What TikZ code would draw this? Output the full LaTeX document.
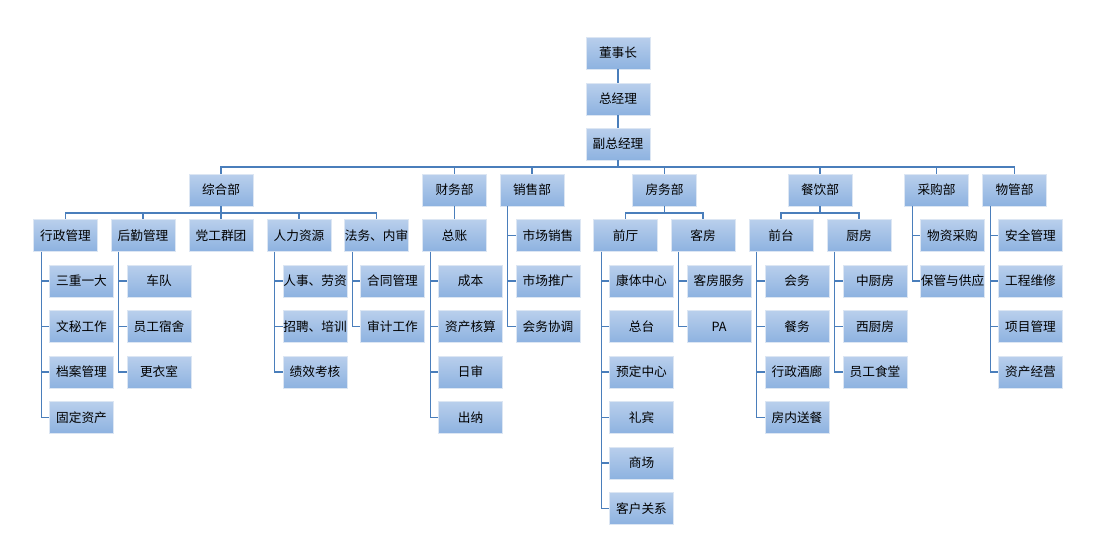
\documentclass[tikz,border=0pt]{standalone}
\usepackage{fontspec}
\setmainfont{Noto Sans CJK SC}
\usepackage{tikz}
\usepackage{xcolor}
\definecolor{boxtop}{HTML}{B9CFEC}
\definecolor{boxbot}{HTML}{8DB2E0}
\definecolor{boxline}{HTML}{DCE6F3}
\definecolor{conn}{HTML}{4A7EBB}

\begin{document}
\begin{tikzpicture}[x=0.75pt, y=-0.75pt,
  box/.style={draw=boxline, line width=0.6pt, top color=boxtop, bottom color=boxbot,
    minimum width=48pt, minimum height=24pt, inner sep=0pt, font=\fontsize{9.5}{11}\selectfont},
  link/.style={draw=conn, line width=0.9pt}]
\useasboundingbox (0,0) rectangle (1110,558);
% top
\node[box] (dsz) at (618,53) {董事长};
\node[box] (zjl) at (618,99) {总经理};
\node[box] (fzjl) at (618,144) {副总经理};
\draw[link] (dsz) -- (zjl);
\draw[link] (zjl) -- (fzjl);
% departments
\node[box] (zhb) at (221,190) {综合部};
\node[box] (cwb) at (454.5,190) {财务部};
\node[box] (xsb) at (532,190) {销售部};
\node[box] (fwb) at (664.5,190) {房务部};
\node[box] (cyb) at (820,190) {餐饮部};
\node[box] (cgb) at (936.5,190) {采购部};
\node[box] (wgb) at (1014.5,190) {物管部};
\coordinate (bus1) at (618,167);
\draw[link] (fzjl) -- (bus1);
\draw[link] (bus1) -| (zhb.north);
\draw[link] (bus1) -| (cwb.north);
\draw[link] (bus1) -| (xsb.north);
\draw[link] (bus1) -| (fwb.north);
\draw[link] (bus1) -| (cyb.north);
\draw[link] (bus1) -| (cgb.north);
\draw[link] (bus1) -| (wgb.north);
% 综合部
\node[box] (xzgl) at (65.5,235.5) {行政管理};
\node[box] (hqgl) at (143,235.5) {后勤管理};
\node[box] (dgqt) at (221,235.5) {党工群团};
\node[box] (rlzy) at (299,235.5) {人力资源};
\node[box] (fwns) at (376.5,235.5) {法务、内审};
\coordinate (bus2) at (221,213);
\draw[link] (zhb) -- (bus2);
\draw[link] (bus2) -| (xzgl.north);
\draw[link] (bus2) -| (hqgl.north);
\draw[link] (bus2) -| (dgqt.north);
\draw[link] (bus2) -| (rlzy.north);
\draw[link] (bus2) -| (fwns.north);
\node[box] (xz1) at (81.5,281) {三重一大};
\node[box] (xz2) at (81.5,326.5) {文秘工作};
\node[box] (xz3) at (81.5,372) {档案管理};
\node[box] (xz4) at (81.5,417.5) {固定资产};
\draw[link] (xzgl.south west) ++(8,0) |- (xz1.west);
\draw[link] (xzgl.south west) ++(8,0) |- (xz2.west);
\draw[link] (xzgl.south west) ++(8,0) |- (xz3.west);
\draw[link] (xzgl.south west) ++(8,0) |- (xz4.west);
\node[box] (hq1) at (159,281) {车队};
\node[box] (hq2) at (159,326.5) {员工宿舍};
\node[box] (hq3) at (159,372) {更衣室};
\draw[link] (hqgl.south west) ++(8,0) |- (hq1.west);
\draw[link] (hqgl.south west) ++(8,0) |- (hq2.west);
\draw[link] (hqgl.south west) ++(8,0) |- (hq3.west);
\node[box] (rl1) at (315,281) {人事、劳资};
\node[box] (rl2) at (315,326.5) {招聘、培训};
\node[box] (rl3) at (315,372) {绩效考核};
\draw[link] (rlzy.south west) ++(8,0) |- (rl1.west);
\draw[link] (rlzy.south west) ++(8,0) |- (rl2.west);
\draw[link] (rlzy.south west) ++(8,0) |- (rl3.west);
\node[box] (fw1) at (392.5,281) {合同管理};
\node[box] (fw2) at (392.5,326.5) {审计工作};
\draw[link] (fwns.south west) ++(8,0) |- (fw1.west);
\draw[link] (fwns.south west) ++(8,0) |- (fw2.west);
% 财务部
\node[box] (zz) at (454.5,235.5) {总账};
\draw[link] (cwb) -- (zz);
\node[box] (zz1) at (470.5,281) {成本};
\node[box] (zz2) at (470.5,326.5) {资产核算};
\node[box] (zz3) at (470.5,372) {日审};
\node[box] (zz4) at (470.5,417.5) {出纳};
\draw[link] (zz.south west) ++(8,0) |- (zz1.west);
\draw[link] (zz.south west) ++(8,0) |- (zz2.west);
\draw[link] (zz.south west) ++(8,0) |- (zz3.west);
\draw[link] (zz.south west) ++(8,0) |- (zz4.west);
% 销售部
\node[box] (xs1) at (548,235.5) {市场销售};
\node[box] (xs2) at (548,281) {市场推广};
\node[box] (xs3) at (548,326.5) {会务协调};
\draw[link] (xsb.south west) ++(8,0) |- (xs1.west);
\draw[link] (xsb.south west) ++(8,0) |- (xs2.west);
\draw[link] (xsb.south west) ++(8,0) |- (xs3.west);
% 房务部
\node[box] (qt) at (625.5,235.5) {前厅};
\node[box] (kf) at (703,235.5) {客房};
\coordinate (bus3) at (664.5,213);
\draw[link] (fwb) -- (bus3);
\draw[link] (bus3) -| (qt.north);
\draw[link] (bus3) -| (kf.north);
\node[box] (qt1) at (641.5,281) {康体中心};
\node[box] (qt2) at (641.5,326.5) {总台};
\node[box] (qt3) at (641.5,372) {预定中心};
\node[box] (qt4) at (641.5,417.5) {礼宾};
\node[box] (qt5) at (641.5,463) {商场};
\node[box] (qt6) at (641.5,508.5) {客户关系};
\draw[link] (qt.south west) ++(8,0) |- (qt1.west);
\draw[link] (qt.south west) ++(8,0) |- (qt2.west);
\draw[link] (qt.south west) ++(8,0) |- (qt3.west);
\draw[link] (qt.south west) ++(8,0) |- (qt4.west);
\draw[link] (qt.south west) ++(8,0) |- (qt5.west);
\draw[link] (qt.south west) ++(8,0) |- (qt6.west);
\node[box] (kf1) at (719,281) {客房服务};
\node[box] (kf2) at (719,326.5) {PA};
\draw[link] (kf.south west) ++(8,0) |- (kf1.west);
\draw[link] (kf.south west) ++(8,0) |- (kf2.west);
% 餐饮部
\node[box] (ct) at (781,235.5) {前台};
\node[box] (cf) at (859,235.5) {厨房};
\coordinate (bus4) at (820,213);
\draw[link] (cyb) -- (bus4);
\draw[link] (bus4) -| (ct.north);
\draw[link] (bus4) -| (cf.north);
\node[box] (ct1) at (797,281) {会务};
\node[box] (ct2) at (797,326.5) {餐务};
\node[box] (ct3) at (797,372) {行政酒廊};
\node[box] (ct4) at (797,417.5) {房内送餐};
\draw[link] (ct.south west) ++(8,0) |- (ct1.west);
\draw[link] (ct.south west) ++(8,0) |- (ct2.west);
\draw[link] (ct.south west) ++(8,0) |- (ct3.west);
\draw[link] (ct.south west) ++(8,0) |- (ct4.west);
\node[box] (cf1) at (875,281) {中厨房};
\node[box] (cf2) at (875,326.5) {西厨房};
\node[box] (cf3) at (875,372) {员工食堂};
\draw[link] (cf.south west) ++(8,0) |- (cf1.west);
\draw[link] (cf.south west) ++(8,0) |- (cf2.west);
\draw[link] (cf.south west) ++(8,0) |- (cf3.west);
% 采购部
\node[box] (cg1) at (952.5,235.5) {物资采购};
\node[box] (cg2) at (952.5,281) {保管与供应};
\draw[link] (cgb.south west) ++(8,0) |- (cg1.west);
\draw[link] (cgb.south west) ++(8,0) |- (cg2.west);
% 物管部
\node[box] (wg1) at (1030.5,235.5) {安全管理};
\node[box] (wg2) at (1030.5,281) {工程维修};
\node[box] (wg3) at (1030.5,326.5) {项目管理};
\node[box] (wg4) at (1030.5,372) {资产经营};
\draw[link] (wgb.south west) ++(8,0) |- (wg1.west);
\draw[link] (wgb.south west) ++(8,0) |- (wg2.west);
\draw[link] (wgb.south west) ++(8,0) |- (wg3.west);
\draw[link] (wgb.south west) ++(8,0) |- (wg4.west);
\end{tikzpicture}
\end{document}
